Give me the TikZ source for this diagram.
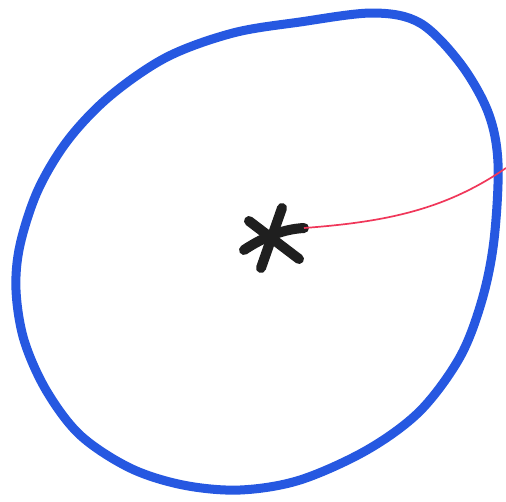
\documentclass[tikz,border=0pt]{standalone}
\begin{document}
\begin{tikzpicture}[x=1pt,y=-1pt,
  loop/.style={draw=blueink,line width=9pt,line cap=round,line join=round},
  starstroke/.style={draw=black!88,line width=10pt,line cap=round},
  radius/.style={draw=redink,line width=1.7pt}]
\definecolor{blueink}{RGB}{38,88,225}
\definecolor{redink}{RGB}{240,55,90}
\useasboundingbox (0,0) rectangle (506,501);
\fill[white] (0,0) rectangle (506,501);
\draw[loop] plot[smooth cycle,tension=0.55] coordinates {
 (373,13) (300,22) (233,33) (167,57) (110,96) (68,140) (38,190)
 (20,245) (16,290) (24,340) (46,390) (80,435) (130,468) (183,485) (240,490)
 (300,480) (367,450) (420,411) (460,357) (482,300) (494,240)
 (498,163) (488,112) (460,63) (420,23)};
\coordinate (c1a) at (249,221); \coordinate (c1b) at (299,259);
\coordinate (c2a) at (282,208); \coordinate (c2b) at (261,268);
\coordinate (c3a) at (244,250); \coordinate (c3b) at (304,228);
\draw[starstroke] (c1a) -- (c1b);
\draw[starstroke] (c2a) -- (c2b);
\draw[starstroke] (c3a) .. controls (265,236) and (285,229) .. (c3b);
\coordinate (rim) at (506,168);
\draw[radius] (c3b) .. controls (385,222) and (445,210) .. (rim);
\end{tikzpicture}
\end{document}
